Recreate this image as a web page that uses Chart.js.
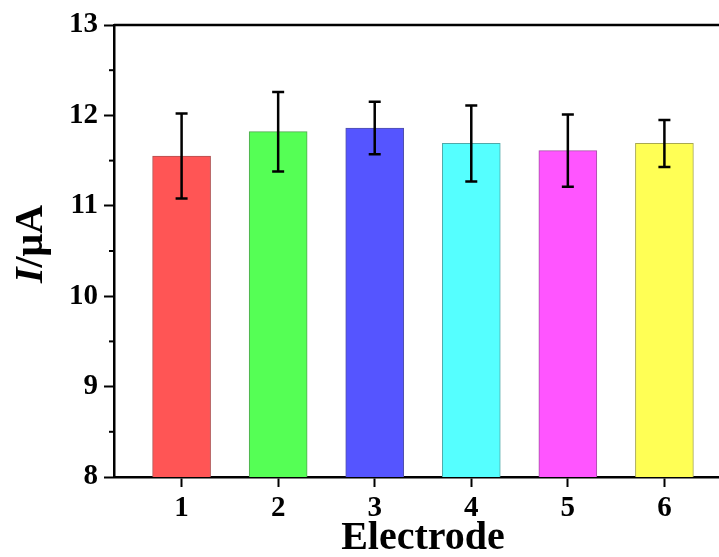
<!DOCTYPE html>
<html>
<head>
<meta charset="utf-8">
<script src="https://cdn.jsdelivr.net/npm/chart.js@4/dist/chart.umd.min.js"></script>
<style>
  html, body { margin: 0; padding: 0; background: #fff; overflow: hidden; }
</style>
</head>
<body>
<canvas id="myChart" width="732" height="557"></canvas>
<script>
/* dados do grafico */
const electrodes = [1, 2, 3, 4, 5, 6];
const current = [11.55, 11.82, 11.86, 11.69, 11.61, 11.69];
const currentErr = [0.47, 0.44, 0.29, 0.42, 0.40, 0.26];
const yTicks = [8, 9, 10, 11, 12, 13];
const yMinorTicks = [8.5, 9.5, 10.5, 11.5, 12.5];

const barColors = ['#ff5555', '#55ff55', '#5555ff', '#55ffff', '#ff55ff', '#ffff55'];
const barBorders = ['#b05050', '#50a850', '#5050a8', '#50a8a8', '#a850a8', '#a8a850'];

const serif = '"Liberation Serif", "Times New Roman", serif';

const extras = {
  id: 'extras',
  afterDatasetsDraw(chart) {
    const {ctx, chartArea, scales: {x, y}} = chart;
    ctx.save();
    // barras de erro
    ctx.strokeStyle = '#000';
    ctx.lineWidth = 2.5;
    electrodes.forEach((e, i) => {
      const px = x.getPixelForValue(e);
      const top = y.getPixelForValue(current[i] + currentErr[i]);
      const bot = y.getPixelForValue(current[i] - currentErr[i]);
      ctx.beginPath();
      ctx.moveTo(px, top); ctx.lineTo(px, bot);
      ctx.moveTo(px - 6, top); ctx.lineTo(px + 6, top);
      ctx.moveTo(px - 6, bot); ctx.lineTo(px + 6, bot);
      ctx.stroke();
    });
    // ticks menores
    ctx.lineWidth = 2;
    yMinorTicks.forEach(v => {
      const py = y.getPixelForValue(v);
      ctx.beginPath();
      ctx.moveTo(chartArea.left - 5, py);
      ctx.lineTo(chartArea.left, py);
      ctx.stroke();
    });
    // borda superior
    ctx.lineWidth = 2.5;
    ctx.beginPath();
    ctx.moveTo(chartArea.left, chartArea.top);
    ctx.lineTo(chartArea.right, chartArea.top);
    ctx.stroke();
    ctx.restore();
  },
  afterDraw(chart) {
    // titulo do eixo y: I em italico
    const {ctx, chartArea} = chart;
    ctx.save();
    ctx.translate(42, (chartArea.top + chartArea.bottom) / 2 - 7);
    ctx.rotate(-Math.PI / 2);
    ctx.fillStyle = '#000';
    ctx.textBaseline = 'alphabetic';
    const f1 = 'italic bold 40px ' + serif;
    const f2 = 'bold 40px ' + serif;
    ctx.font = f1;
    const w1 = ctx.measureText('I').width;
    ctx.font = f2;
    const w2 = ctx.measureText('/μA').width;
    let sx = -(w1 + w2) / 2;
    ctx.font = f1;
    ctx.fillText('I', sx, 0);
    ctx.font = f2;
    ctx.fillText('/μA', sx + w1, 0);
    ctx.restore();
  }
};

const config = {
  type: 'bar',
  data: {
    datasets: [{
      label: 'I',
      data: electrodes.map((e, i) => ({x: e, y: current[i]})),
      backgroundColor: barColors,
      borderColor: barBorders,
      borderWidth: 1,
      barThickness: 58
    }]
  },
  options: {
    responsive: false,
    animation: false,
    layout: { padding: { top: 25, right: 0, left: 0, bottom: 0 } },
    plugins: {
      legend: { display: false },
      tooltip: { enabled: false }
    },
    scales: {
      x: {
        type: 'linear',
        offset: false,
        min: 0.3,
        max: 6.7,
        afterBuildTicks: s => { s.ticks = electrodes.map(v => ({value: v})); },
        afterFit: s => { s.height = 80; },
        grid: { offset: false, drawOnChartArea: false, drawTicks: true, tickLength: 10, tickWidth: 2, tickColor: '#000' },
        border: { display: true, color: '#000', width: 2.5 },
        ticks: { color: '#000', padding: 4, font: { family: serif, size: 29, weight: 'bold' } },
        title: {
          display: true,
          text: 'Electrode',
          color: '#000',
          padding: { top: 0, bottom: 0 },
          font: { family: serif, size: 40, weight: 'bold', lineHeight: 0.9 }
        }
      },
      y: {
        min: 8,
        max: 13,
        afterBuildTicks: s => { s.ticks = yTicks.map(v => ({value: v})); },
        afterFit: s => { s.width = 114; },
        grid: { drawOnChartArea: false, drawTicks: true, tickLength: 10, tickWidth: 2, tickColor: '#000' },
        border: { display: true, color: '#000', width: 2.5 },
        ticks: { color: '#000', padding: 6, font: { family: serif, size: 29, weight: 'bold' } }
      }
    }
  },
  plugins: [extras]
};

const myChart = new Chart(document.getElementById('myChart'), config);
</script>
</body>
</html>
